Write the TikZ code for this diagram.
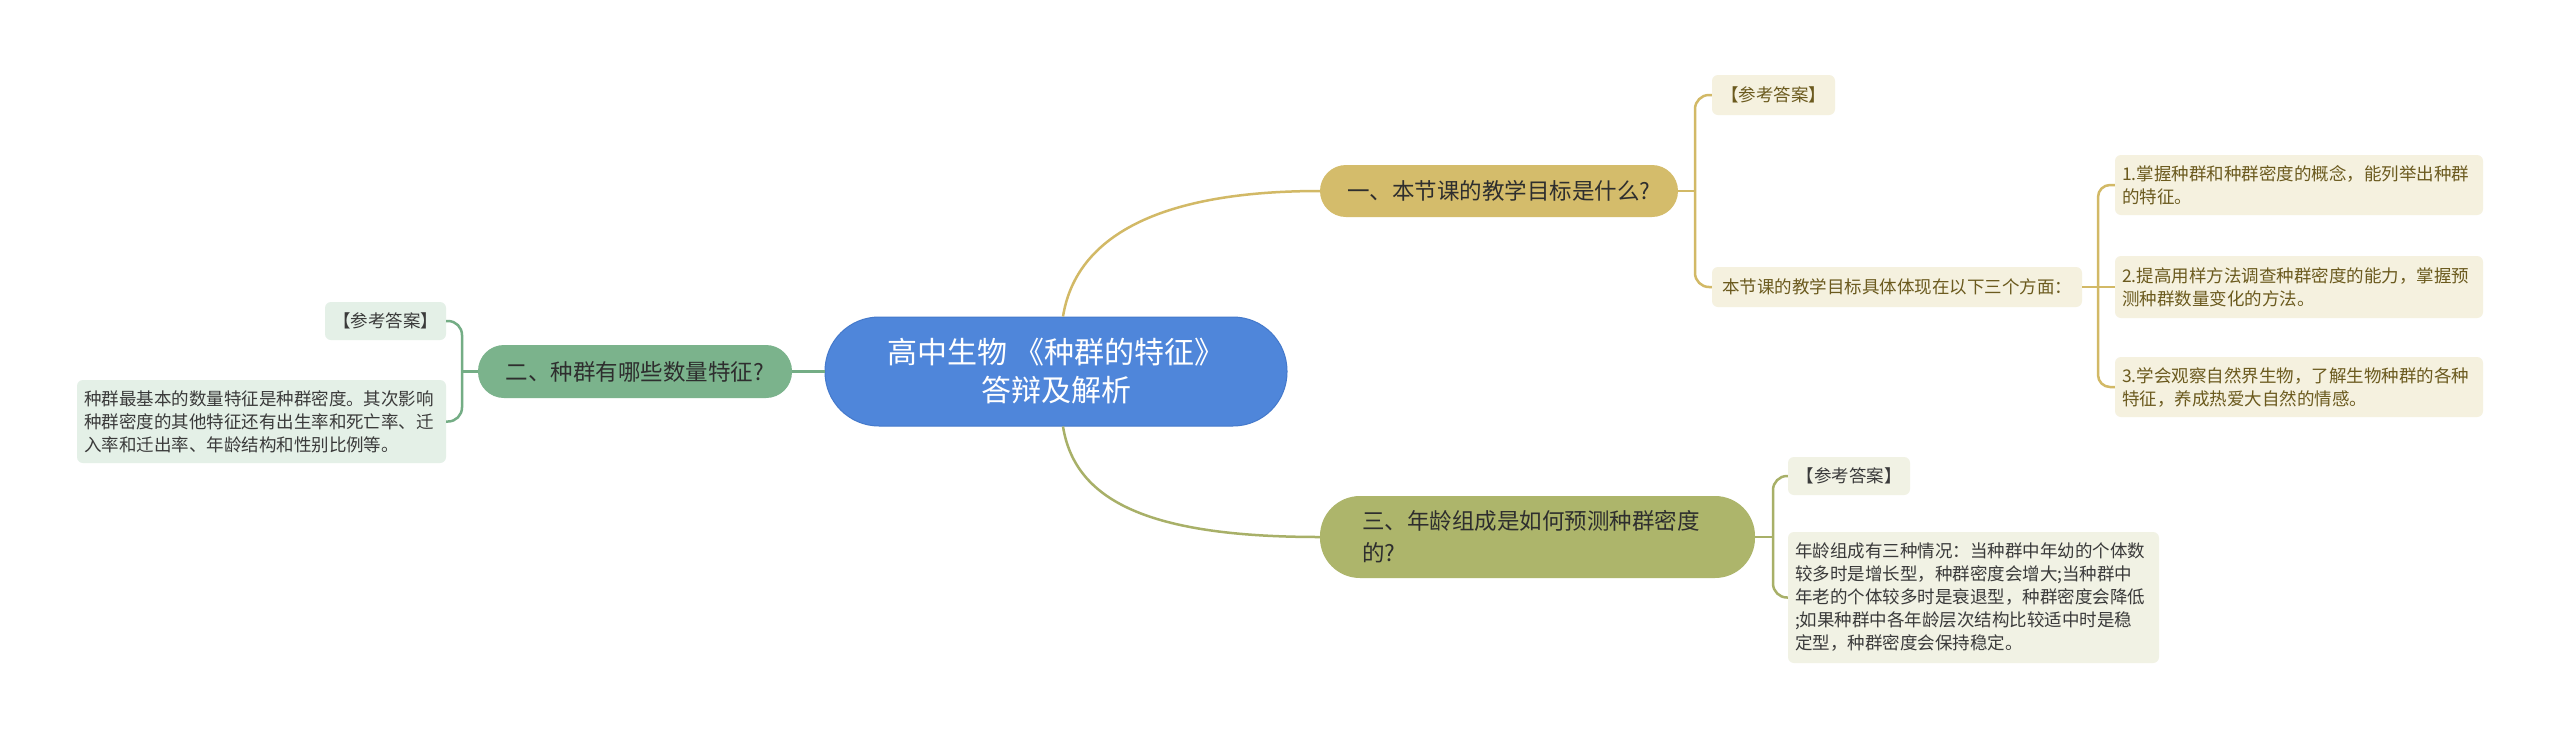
\documentclass[tikz,border=0pt]{standalone}
\usepackage{fontspec}
\setmainfont{Noto Sans CJK SC}
\definecolor{rootblue}{HTML}{4F86DA}
\definecolor{rootedge}{HTML}{4479CB}
\definecolor{topictext}{HTML}{2E2E2E}
\definecolor{aFill}{HTML}{D4BC6B}
\definecolor{bFill}{HTML}{7BB38C}
\definecolor{cFill}{HTML}{ADB56B}
\definecolor{aLine}{HTML}{D2B966}
\definecolor{bLine}{HTML}{74AD85}
\definecolor{cLine}{HTML}{A8B068}
\definecolor{aLeaf}{HTML}{F5F1DF}
\definecolor{bLeaf}{HTML}{E4F0E7}
\definecolor{cLeaf}{HTML}{F1F2E4}
\definecolor{aText}{HTML}{6B5A1E}
\definecolor{leafText}{HTML}{3A3A3A}
\begin{document}
\begin{tikzpicture}[x=1pt,y=-1pt,
  rootnode/.style={fill=rootblue, draw=rootedge, line width=1pt, rounded corners=54pt,
    minimum width=462pt, minimum height=109pt, inner sep=0pt, text=white,
    font=\fontsize{30}{38}\selectfont, align=center},
  topic/.style={rounded corners=26pt, minimum height=52pt, inner sep=0pt,
    text=topictext, font=\fontsize{22.5}{32}\selectfont, align=center},
  leaf/.style={rounded corners=6pt, inner sep=0pt, font=\fontsize{17.5}{23}\selectfont},
  leafa/.style={leaf, fill=aLeaf, text=aText},
  leafb/.style={leaf, fill=bLeaf, text=leafText},
  leafc/.style={leaf, fill=cLeaf, text=leafText},
  conn/.style={line width=2.5pt},
  ca/.style={conn, draw=aLine},
  cb/.style={conn, draw=bLine},
  cc/.style={conn, draw=cLine}
]
\useasboundingbox (0,0) rectangle (2560,740);
\fill[white] (0,0) rectangle (2560,740);

% root
\node[rootnode] (root) at (1056,371.5) {高中生物 《种群的特征》\\答辩及解析};

% topics
\node[topic, fill=aFill, minimum width=358pt] (n1) at (1499,191) {一、本节课的教学目标是什么?};
\node[topic, fill=bFill, minimum width=314pt, minimum height=53pt] (n2) at (635,371.5) {二、种群有哪些数量特征?};
\node[topic, fill=cFill, minimum width=435pt, minimum height=82pt, rounded corners=40pt,
  text width=351pt, align=left] (n3) at (1537.5,537) {三、年龄组成是如何预测种群密度\\的?};

% branch 1 leaves
\node[leafa, minimum width=123pt, minimum height=40pt] (n1a) at (1773.5,95) {【参考答案】};
\node[leafa, minimum width=370pt, minimum height=40pt] (n1b) at (1897,287) {本节课的教学目标具体体现在以下三个方面：};
\node[leafa, minimum width=368pt, minimum height=60pt, text width=354pt, align=left] (s1) at (2299,185)
  {1.掌握种群和种群密度的概念，能列举出种群\\的特征。};
\node[leafa, minimum width=368pt, minimum height=62pt, text width=354pt, align=left] (s2) at (2299,287)
  {2.提高用样方法调查种群密度的能力，掌握预\\测种群数量变化的方法。};
\node[leafa, minimum width=368pt, minimum height=60pt, text width=354pt, align=left] (s3) at (2299,387)
  {3.学会观察自然界生物，了解生物种群的各种\\特征，养成热爱大自然的情感。};

% branch 2 leaves
\node[leafb, minimum width=121pt, minimum height=38pt] (n2a) at (385.5,321) {【参考答案】};
\node[leafb, minimum width=369pt, minimum height=83pt, text width=355pt, align=left] (n2b) at (261.5,421.5)
  {种群最基本的数量特征是种群密度。其次影响\\种群密度的其他特征还有出生率和死亡率、迁\\入率和迁出率、年龄结构和性别比例等。};

% branch 3 leaves
\node[leafc, minimum width=122pt, minimum height=38pt] (n3a) at (1849,476) {【参考答案】};
\node[leafc, minimum width=371pt, minimum height=131pt, text width=357pt, align=left] (n3b) at (1973.5,597.5)
  {年龄组成有三种情况：当种群中年幼的个体数\\较多时是增长型，种群密度会增大;当种群中\\年老的个体较多时是衰退型，种群密度会降低\\;如果种群中各年龄层次结构比较适中时是稳\\定型，种群密度会保持稳定。};

% junctions
\coordinate (j1) at (1695,191);
\coordinate (j2) at (2098,287);
\coordinate (j3) at (462,371.5);
\coordinate (j4) at (1773,537);

% root connectors
\draw[ca] ([xshift=7pt]root.north) .. controls +(12,-75) and +(-170,0) .. (n1.west);
\draw[cc] ([xshift=7pt]root.south) .. controls +(12,75) and +(-170,0) .. (n3.west);
\draw[cb] (root.west) -- (n2.east);

% branch 1
\draw[ca] (n1.east) -- (j1);
\draw[ca, rounded corners=14pt] (n1a.west) -| (j1) |- (n1b.west);
\draw[ca] (n1b.east) -- (s2.west);
\draw[ca, rounded corners=12pt] (s1.west) -| (j2) |- (s3.west);

% branch 2
\draw[cb] (n2.west) -- (j3);
\draw[cb, rounded corners=14pt] (n2a.east) -| (j3) |- (n2b.east);

% branch 3
\draw[cc] (n3.east) -- (j4);
\draw[cc, rounded corners=14pt] (n3a.west) -| (j4) |- (n3b.west);
\end{tikzpicture}
\end{document}
